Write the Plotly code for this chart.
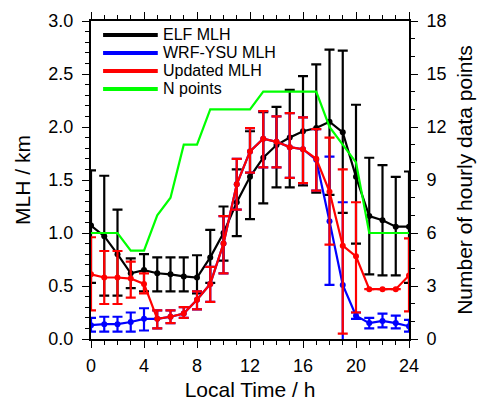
import plotly.graph_objects as go

hours = list(range(25))

# ELF MLH (km) with error-bar bounds
elf = [1.07, 0.97, 0.80, 0.62, 0.65, 0.62, 0.61, 0.59, 0.58, 0.77, 1.00, 1.29, 1.53,
       1.71, 1.83, 1.90, 1.96, 1.99, 2.05, 1.95, 1.53, 1.16, 1.12, 1.06, 1.06]
elf_hi = [1.59, 1.54, 1.22, 0.76, 0.80, 0.77, 0.77, 0.77, 0.79, 1.03, 1.25, 1.60, 1.96,
          2.14, 2.19, 2.35, 2.48, 2.59, 2.73, 2.72, 2.21, 1.71, 1.64, 1.53, 1.58]
elf_lo = [0.53, 0.41, 0.41, 0.48, 0.45, 0.45, 0.45, 0.45, 0.43, 0.53, 0.74, 0.97, 1.13,
          1.28, 1.43, 1.43, 1.45, 1.38, 1.36, 1.19, 0.90, 0.61, 0.60, 0.60, 0.53]

# WRF-YSU MLH (km)
wrf = [0.13, 0.14, 0.14, 0.16, 0.19, 0.19, 0.21, 0.24, 0.37, 0.52, 0.90, 1.46, 1.77,
       1.89, 1.86, 1.81, 1.79, 1.69, 1.11, 0.51, 0.22, 0.15, 0.17, 0.15, 0.12]
wrf_hi = [0.20, 0.21, 0.21, 0.25, 0.29, 0.27, 0.27, 0.30, 0.45, 0.68, 1.16, 1.70, 1.99,
          2.15, 2.10, 2.13, 2.09, 1.98, 1.72, 1.29, 0.25, 0.20, 0.24, 0.22, 0.18]
wrf_lo = [0.07, 0.07, 0.07, 0.07, 0.08, 0.10, 0.15, 0.20, 0.28, 0.35, 0.62, 1.22, 1.57,
          1.62, 1.62, 1.52, 1.47, 1.40, 0.51, -0.05, 0.19, 0.10, 0.11, 0.10, 0.07]

# Updated MLH (km)
upd = [0.61, 0.58, 0.58, 0.57, 0.52, 0.19, 0.21, 0.24, 0.37, 0.52, 0.90, 1.46, 1.77,
       1.89, 1.86, 1.81, 1.79, 1.70, 1.39, 0.88, 0.78, 0.47, 0.47, 0.47, 0.60]
upd_hi = [0.96, 0.83, 0.83, 0.73, 0.62, 0.27, 0.27, 0.30, 0.45, 0.68, 1.16, 1.70, 1.99,
          2.15, 2.10, 2.13, 2.09, 1.98, 1.90, 1.60, 1.29, None, None, None, 0.95]
upd_lo = [0.27, 0.33, 0.33, 0.39, 0.43, 0.10, 0.15, 0.20, 0.28, 0.35, 0.62, 1.22, 1.57,
          1.62, 1.62, 1.52, 1.47, 1.40, 0.89, 0.05, 0.25, None, None, None, 0.26]

# Number of hourly data points
npts = [6, 6, 6, 5, 5, 7, 8, 11, 11, 13, 13, 13, 13, 14, 14, 14, 14, 14, 12, 11, 10, 6, 6, 6, 6]

series_names = ["ELF MLH", "WRF-YSU MLH", "Updated MLH", "N points"]
series_colors = ["#000000", "#0000ff", "#ff0000", "#00ff00"]


def err(vals, bound, upper):
    out = []
    for v, b in zip(vals, bound):
        if b is None:
            out.append(None)
        else:
            out.append((b - v) if upper else (v - b))
    return out


fig = go.Figure()
for vals, hi, lo, col in [(elf, elf_hi, elf_lo, series_colors[0]),
                          (wrf, wrf_hi, wrf_lo, series_colors[1]),
                          (upd, upd_hi, upd_lo, series_colors[2])]:
    fig.add_trace(go.Scatter(
        x=hours, y=vals, mode="lines+markers",
        line=dict(color=col, width=2.2),
        marker=dict(color=col, size=6),
        error_y=dict(type="data", symmetric=False,
                     array=err(vals, hi, True), arrayminus=err(vals, lo, False),
                     color=col, thickness=2.2, width=5),
        showlegend=False, cliponaxis=True))

fig.add_trace(go.Scatter(x=hours, y=npts, mode="lines", yaxis="y2",
                         line=dict(color=series_colors[3], width=2.2),
                         showlegend=False))

font_family = "Liberation Sans, Arial, sans-serif"
tickfont = dict(family=font_family, size=18, color="black")
titlefont = dict(family=font_family, size=21, color="black")

fig.update_layout(
    width=486, height=410,
    margin=dict(l=91, r=77, t=21, b=71),
    paper_bgcolor="white", plot_bgcolor="white",
    font=dict(family=font_family, color="black"),
    xaxis=dict(range=[0, 24], dtick=4, tick0=0, showgrid=False, zeroline=False,
               showline=True, linecolor="black", linewidth=2, mirror="ticks",
               ticks="outside", ticklen=7, tickwidth=1.2, tickcolor="black",
               minor=dict(dtick=1, ticks="outside", ticklen=4, tickwidth=1, tickcolor="black"),
               tickfont=tickfont, ticklabelstandoff=2,
               title=dict(text="Local Time / h", font=titlefont, standoff=8)),
    yaxis=dict(range=[0, 3], dtick=0.5, tickformat=".1f", showgrid=False, zeroline=False,
               showline=True, linecolor="black", linewidth=2, mirror=True,
               ticks="outside", ticklen=7, tickwidth=1.2, tickcolor="black",
               minor=dict(dtick=0.1, ticks="outside", ticklen=4, tickwidth=1, tickcolor="black"),
               tickfont=tickfont, ticklabelstandoff=5,
               title=dict(text="MLH / km", font=titlefont, standoff=12)),
    yaxis2=dict(range=[0, 18], dtick=3, overlaying="y", side="right", showgrid=False,
                zeroline=False, showline=True, linecolor="black", linewidth=2,
                ticks="outside", ticklen=7, tickwidth=1.2, tickcolor="black",
                minor=dict(dtick=1, ticks="outside", ticklen=4, tickwidth=1, tickcolor="black"),
                tickfont=tickfont, ticklabelstandoff=5,
                title=dict(text="Number of hourly data points", font=titlefont, standoff=12)),
)

# Legend drawn as line samples plus text, inside top-left of the plot
leg_y = [0.956, 0.8994, 0.8428, 0.7862]
for name, col, yy in zip(series_names, series_colors, leg_y):
    fig.add_shape(type="line", xref="paper", yref="paper", x0=0.038, x1=0.21, y0=yy, y1=yy,
                  line=dict(color=col, width=4))
    fig.add_annotation(xref="paper", yref="paper", x=0.222, y=yy, text=name, showarrow=False,
                       xanchor="left", yanchor="middle", borderpad=0,
                       font=dict(family=font_family, size=16, color="black"))

fig.write_html("out.html")
